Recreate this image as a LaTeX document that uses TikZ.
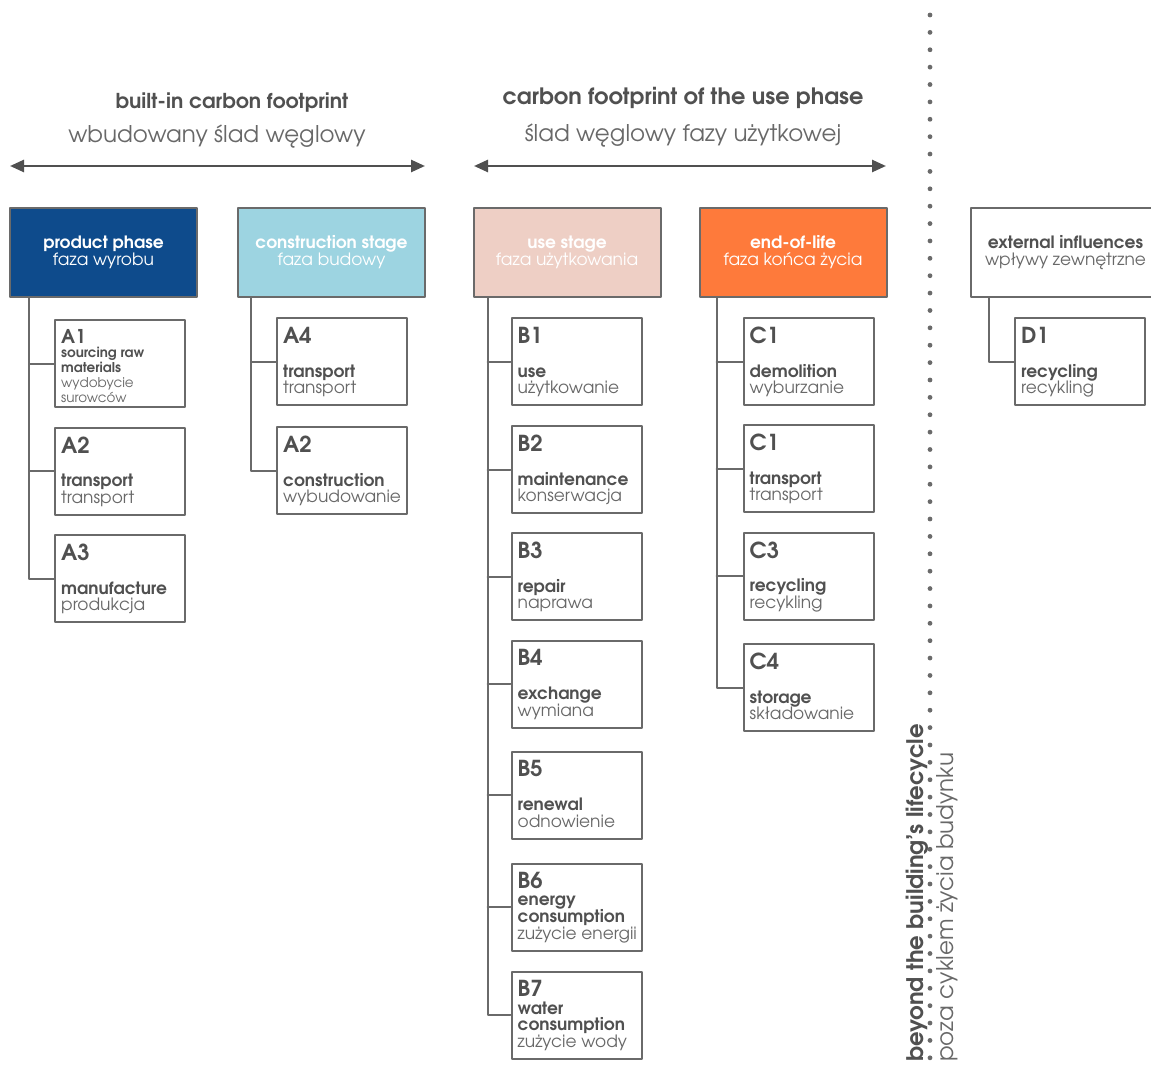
\documentclass[tikz,border=0pt]{standalone}
\usepackage{fontspec}
\setmainfont{TeX Gyre Adventor}
\usetikzlibrary{arrows.meta}
\usetikzlibrary{positioning}
\definecolor{navyphase}{HTML}{0E4B8C}
\definecolor{skyphase}{HTML}{9DD4E1}
\definecolor{rosephase}{HTML}{EECFC5}
\definecolor{orangephase}{HTML}{FE7A3B}
\definecolor{framegray}{HTML}{6A6A6A}
\definecolor{inkgray}{HTML}{505050}
\definecolor{softgray}{HTML}{686868}
\newcommand{\bb}[1]{{\bfseries\color{inkgray}#1}}
\newcommand{\stg}[6][]{%
\node[stagebox] (#2) at (#3,#4) {};
\node[codetxt] (#2code) at ([shift={(7,10)}]#2.north west) {#5};
\node[bodytxt,#1] (#2txt) at ([shift={(7,-7)}]#2.south west) {#6\strut};
}

\begin{document}
\begin{tikzpicture}[line cap=round,line join=round,x=1pt,y=-1pt,
  phasebox/.style={draw=framegray,line width=2pt,minimum width=187,minimum height=89,
    text=white,align=center,font=\fontsize{17}{17}\selectfont},
  stagebox/.style={draw=framegray,line width=2pt,minimum width=130,minimum height=87},
  codetxt/.style={anchor=north west,inner sep=0pt,text=inkgray,font=\fontsize{22}{22}\selectfont\bfseries},
  bodytxt/.style={anchor=south west,inner sep=0pt,align=left,text=softgray,font=\fontsize{17}{16.5}\selectfont},
  smalltxt/.style={font=\fontsize{13.5}{15}\selectfont},
  link/.style={draw=framegray,line width=2pt},
  span/.style={{Triangle[length=14pt,width=12pt]}-{Triangle[length=14pt,width=12pt]},line width=2.5pt,draw=inkgray,fill=inkgray},
  headb/.style={text=inkgray,font=\fontsize{20.5}{20.5}\selectfont\bfseries},
  headr/.style={text=softgray,font=\fontsize{23}{23}\selectfont}]
\useasboundingbox (0,0) rectangle (1151,1068);
\clip (0,0) rectangle (1151,1068);

\node[headb] (t1) at (232,103) {built-in carbon footprint};
\node[headr] (t1pl) at (217,137) {wbudowany ślad węglowy};
\node[headb,font=\fontsize{22.5}{22.5}\selectfont\bfseries] (t2) at (683,98) {carbon footprint of the use phase};
\node[headr] (t2pl) at (683,136) {ślad węglowy fazy użytkowej};
\coordinate (bl) at (10,166);
\coordinate (br) at (425,166);
\coordinate (ul) at (474,166);
\coordinate (ur) at (886,166);
\draw[span] (bl) -- (br);
\draw[span] (ul) -- (ur);

\node[phasebox,fill=navyphase] (prod) at (103.5,252.5) {\textbf{product phase}\\faza wyrobu};
\node[phasebox,fill=skyphase] (cons) at (331.5,252.5) {\textbf{construction stage}\\faza budowy};
\node[phasebox,fill=rosephase] (use) at (567,252.5) {\textbf{use stage}\\faza użytkowania};
\node[phasebox,fill=orangephase] (eol) at (793,252.5) {\textbf{end-of-life}\\faza końca życia};
\node[phasebox,fill=white,text=softgray,minimum width=189] (ext) at (1065.5,252.5) {\bb{external influences}\\wpływy zewnętrzne};

\stg[smalltxt,yshift=-6.5]{a1}{120}{363.5}{\fontsize{19}{19}\selectfont A1}{\bb{sourcing raw}\\\bb{materials}\\wydobycie\\surowców}
\stg{a2}{120}{471}{A2}{\bb{transport}\\transport}
\stg{a3}{120}{578.5}{A3}{\bb{manufacture}\\produkcja}
\stg{a4}{342}{361.5}{A4}{\bb{transport}\\transport}
\stg{a5}{342}{470.5}{A2}{\bb{construction}\\wybudowanie}
\stg{b1}{576.5}{361.5}{B1}{\bb{use}\\użytkowanie}
\stg{b2}{576.5}{469.5}{B2}{\bb{maintenance}\\konserwacja}
\stg{b3}{576.5}{576.5}{B3}{\bb{repair}\\naprawa}
\stg{b4}{576.5}{684}{B4}{\bb{exchange}\\wymiana}
\stg{b5}{576.5}{795}{B5}{\bb{renewal}\\odnowienie}
\stg{b6}{576.5}{907}{B6}{\bb{energy}\\\bb{consumption}\\zużycie energii}
\stg{b7}{576.5}{1015}{B7}{\bb{water}\\\bb{consumption}\\zużycie wody}
\stg{c1}{808.5}{361.5}{C1}{\bb{demolition}\\wyburzanie}
\stg{c2}{808.5}{468.5}{C1}{\bb{transport}\\transport}
\stg{c3}{808.5}{576}{C3}{\bb{recycling}\\recykling}
\stg{c4}{808.5}{687.5}{C4}{\bb{storage}\\składowanie}
\stg{d1}{1080}{361.5}{D1}{\bb{recycling}\\recykling}

\coordinate (pv) at ([xshift=20]prod.south west);
\draw[link] (pv) |- (a3.west);
\foreach \n in {a1,a2}
\draw[link] (\n.west) -- (\n.west -| pv);
\coordinate (cv) at ([xshift=14]cons.south west);
\draw[link] (cv) |- (a5.west);
\draw[link] (a4.west) -- (a4.west -| cv);
\coordinate (uv) at ([xshift=15]use.south west);
\draw[link] (uv) |- (b7.west);
\foreach \n in {b1,b2,b3,b4,b5,b6}
\draw[link] (\n.west) -- (\n.west -| uv);
\coordinate (ev) at ([xshift=18]eol.south west);
\draw[link] (ev) |- (c4.west);
\foreach \n in {c1,c2,c3}
\draw[link] (\n.west) -- (\n.west -| ev);
\coordinate (xv) at ([xshift=19]ext.south west);
\draw[link] (xv) |- (d1.west);

\foreach \i in {0,...,60}
\fill[framegray] (930,15+17.38*\i) circle (2.4);
\node[rotate=90,anchor=base west,inner sep=0pt,text=inkgray,font=\fontsize{22.8}{22.8}\selectfont\bfseries] (beyond) at (923,1062) {beyond the building’s lifecycle};
\node[rotate=90,anchor=base west,inner sep=0pt,text=softgray,font=\fontsize{23}{23}\selectfont] (poza) at (953,1062) {poza cyklem życia budynku};
\end{tikzpicture}
\end{document}
